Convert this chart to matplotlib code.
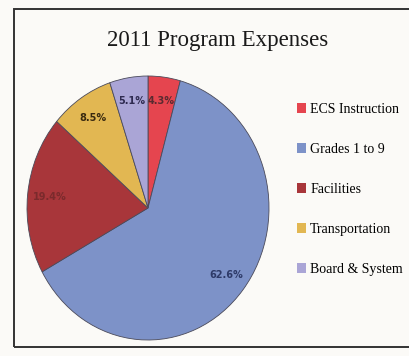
import matplotlib.pyplot as plt
from matplotlib.patches import Patch, Rectangle

# Program expense shares (percent)
categories = ['ECS Instruction', 'Grades 1 to 9', 'Facilities', 'Transportation', 'Board & System']
shares = [4.3, 62.6, 19.4, 8.5, 5.1]
colors = ['#e5454f', '#7d92c8', '#a8363a', '#e2b752', '#aaa5d6']
pct_colors = ['#5a2a30', '#2e3a68', '#7a2a2c', '#3a2a10', '#2e2a50']

plt.rcParams['font.family'] = ['Liberation Serif', 'DejaVu Serif']

fig = plt.figure(figsize=(4.09, 3.56), dpi=100)
fig.patch.set_facecolor('#fbfaf7')

# frame round the chart
fig.add_artist(Rectangle((14 / 409, 9 / 356), 1.2, 338 / 356, transform=fig.transFigure,
                         fill=False, edgecolor='#333333', linewidth=1.4))

fig.text(0.533, 0.885, '2011 Program Expenses', ha='center', va='center',
         fontsize=16.5, color='#1a1a1a')

ax = fig.add_axes([27 / 409, 16 / 356, 242 / 409, 264 / 356])
total = sum(shares)
wedges, texts, autotexts = ax.pie(
    shares, colors=colors, startangle=90, counterclock=False,
    autopct=lambda p: f'{p * total / 100:.1f}%', pctdistance=0.82,
    wedgeprops=dict(edgecolor='#4a4a5a', linewidth=0.6),
    textprops=dict(fontsize=7, fontweight='bold', family='DejaVu Sans Condensed'))
for t, c in zip(autotexts, pct_colors):
    t.set_color(c)
ax.set_aspect('auto')
ax.set_xlim(-1, 1)
ax.set_ylim(-1, 1)

handles = [Patch(facecolor=c, edgecolor='none') for c in colors]
fig.legend(handles, categories, loc='upper left', bbox_to_anchor=(297 / 409, 1 - 103 / 356),
           frameon=False, fontsize=10, labelspacing=1.94, handlelength=0.65,
           handleheight=0.65, handletextpad=0.3, borderaxespad=0, borderpad=0)

fig.savefig('out.png', dpi=100, facecolor=fig.get_facecolor())
